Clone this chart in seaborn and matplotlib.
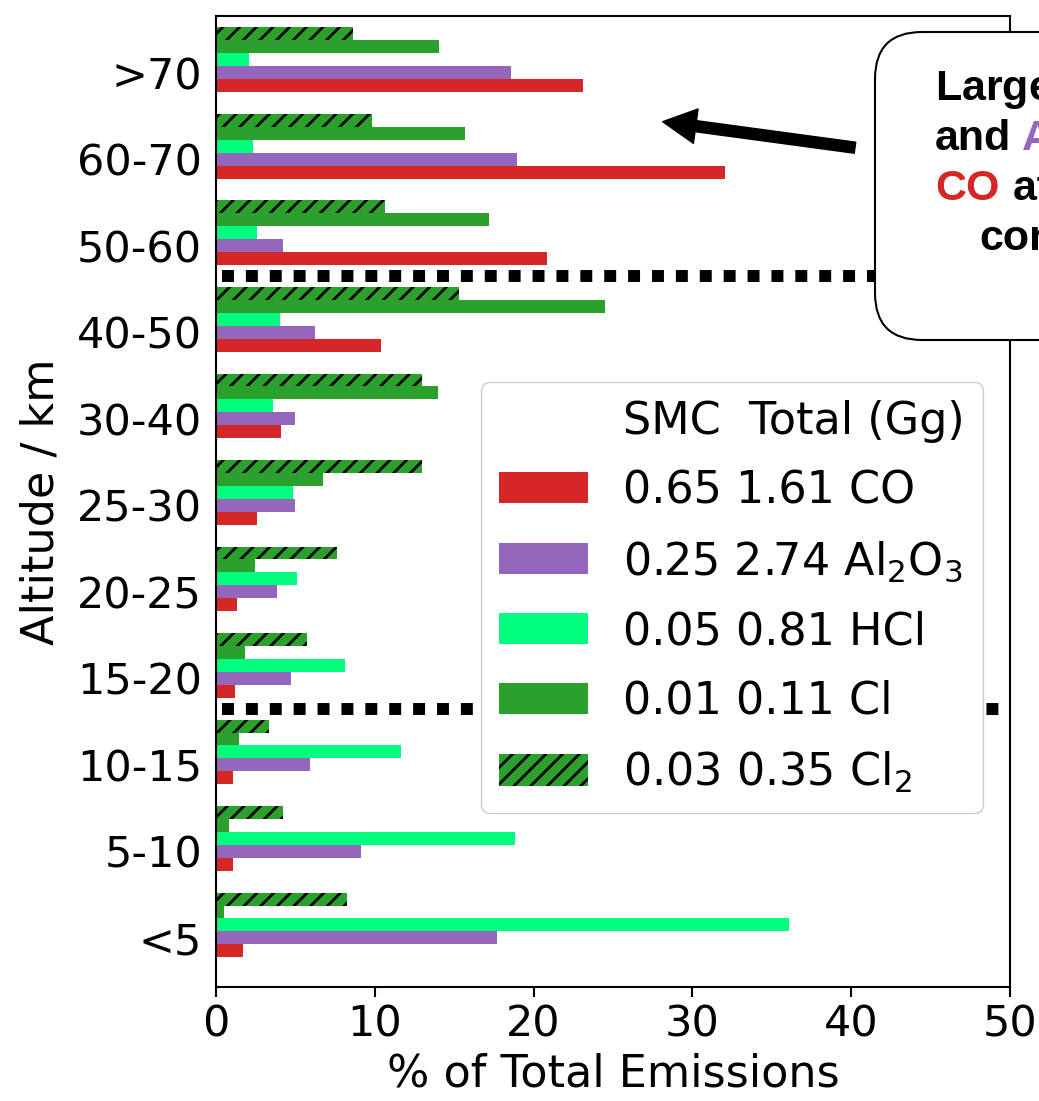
import numpy as np
import pandas as pd
import matplotlib.pyplot as plt
import seaborn as sns
from matplotlib.patches import Patch, FancyBboxPatch

# altitude bins, top to bottom
alts = ['>70', '60-70', '50-60', '40-50', '30-40', '25-30', '20-25', '15-20', '10-15', '5-10', '<5']

# % of total emissions per altitude bin
co = [23.1, 32.05, 20.85, 10.4, 4.1, 2.6, 1.35, 1.2, 1.1, 1.05, 1.7]
al2o3 = [18.6, 18.95, 4.25, 6.25, 5.0, 5.0, 3.85, 4.75, 5.9, 9.15, 17.7]
hcl = [2.1, 2.35, 2.6, 4.0, 3.6, 4.85, 5.1, 8.15, 11.65, 18.85, 36.1]
cl = [14.05, 15.7, 17.2, 24.5, 13.95, 6.75, 2.45, 1.85, 1.45, 0.8, 0.5]
cl2 = [8.65, 9.8, 10.65, 15.3, 12.95, 12.95, 7.65, 5.75, 3.35, 4.2, 8.25]

species = ['CO', 'Al2O3', 'HCl', 'Cl', 'Cl2']
species_tex = ['CO', 'Al$_2$O$_3$', 'HCl', 'Cl', 'Cl$_2$']
smc = ['0.65', '0.25', '0.05', '0.01', '0.03']
total_gg = ['1.61', '2.74', '0.81', '0.11', '0.35']
colors = ['#d62728', '#9467bd', '#00ff7f', '#2ca02c', '#2ca02c']

# separators between altitude regions (between bins)
sep_y = [2.5, 7.5]

plt.rcParams['font.family'] = 'DejaVu Sans'
plt.rcParams['hatch.linewidth'] = 2.0

df = pd.DataFrame({
    'alt': alts * len(species),
    'species': np.repeat(species, len(alts)),
    'pct': co + al2o3 + hcl + cl + cl2,
})

fig = plt.figure(figsize=(10.39, 11.01), dpi=100)
ax = fig.add_axes([0.2079, 0.1033, 0.7642, 0.8825])

# Cl2 drawn at the top of each group, CO at the bottom
sns.barplot(data=df, x='pct', y='alt', hue='species', order=alts,
            hue_order=species[::-1], palette=dict(zip(species, colors)),
            orient='h', width=0.75, saturation=1, errorbar=None,
            linewidth=0, legend=False, ax=ax)
for bar in ax.containers[0]:
    bar.set_hatch('//')
    bar.set_edgecolor('black')
    bar.set_linewidth(0)

ax.set_xlim(0, 50)
ax.set_ylim(10.72, -0.512)
ax.set_xticks([0, 10, 20, 30, 40, 50])
# labels sit level with the Al2O3 bar of each group
ax.set_yticks(np.arange(len(alts)) + 0.15, alts)
ax.tick_params(axis='y', length=0, pad=10, labelsize=31)
ax.tick_params(axis='x', length=7, width=1.5, pad=5, labelsize=31)
for s in ax.spines.values():
    s.set_linewidth(1.5)
ax.set_xlabel('% of Total Emissions', fontsize=32, labelpad=5)
ax.set_ylabel('Altitude / km', fontsize=32, labelpad=10)

for yb in sep_y:
    ax.plot([0.4, 49.6], [yb, yb], color='black', lw=8.6, dashes=(1, 1), zorder=3)

# legend with a header row
handles = [Patch(facecolor='none', edgecolor='none')]
labels = ['SMC  Total (Gg)']
for i, sp in enumerate(species):
    if sp == 'Cl2':
        handles.append(Patch(facecolor=colors[i], edgecolor='black', linewidth=0, hatch='//'))
    else:
        handles.append(Patch(facecolor=colors[i], edgecolor='none'))
    labels.append(f'{smc[i]} {total_gg[i]} {species_tex[i]}')
ax.legend(handles, labels, loc='upper left', bbox_to_anchor=(0.334, 0.623),
          borderaxespad=0, fontsize=32, labelspacing=0.6, framealpha=1)

# annotation box (runs off the right edge)
box = FancyBboxPatch((8.75, 7.61), 4.0, 3.08, boxstyle='round,pad=0,rounding_size=0.47',
                     transform=fig.dpi_scale_trans, facecolor='white', edgecolor='black',
                     lw=1.5, zorder=10)
fig.add_artist(box)
bold = dict(family=['Liberation Sans', 'DejaVu Sans'], weight='bold', fontsize=31,
            transform=fig.dpi_scale_trans, va='baseline', zorder=11)
fig.text(9.35, 10.01, 'Larger Cl$_2$', color='black', **bold)
fig.text(9.35, 9.51, 'and', color='black', **bold)
fig.text(10.21, 9.51, 'Al$_2$O$_3$', color='#9467bd', **bold)
fig.text(9.35, 9.01, 'CO', color='#d62728', **bold)
fig.text(10.13, 9.01, 'at high', color='black', **bold)
fig.text(9.79, 8.51, 'contributions', color='black', **bold)

ax.annotate('', xy=(662.7, 979.3), xytext=(855, 953.3),
            xycoords='figure pixels', textcoords='figure pixels',
            arrowprops=dict(facecolor='black', edgecolor='black', width=8,
                            headwidth=25, headlength=24, shrink=0))

fig.savefig('out.png', dpi=100)
